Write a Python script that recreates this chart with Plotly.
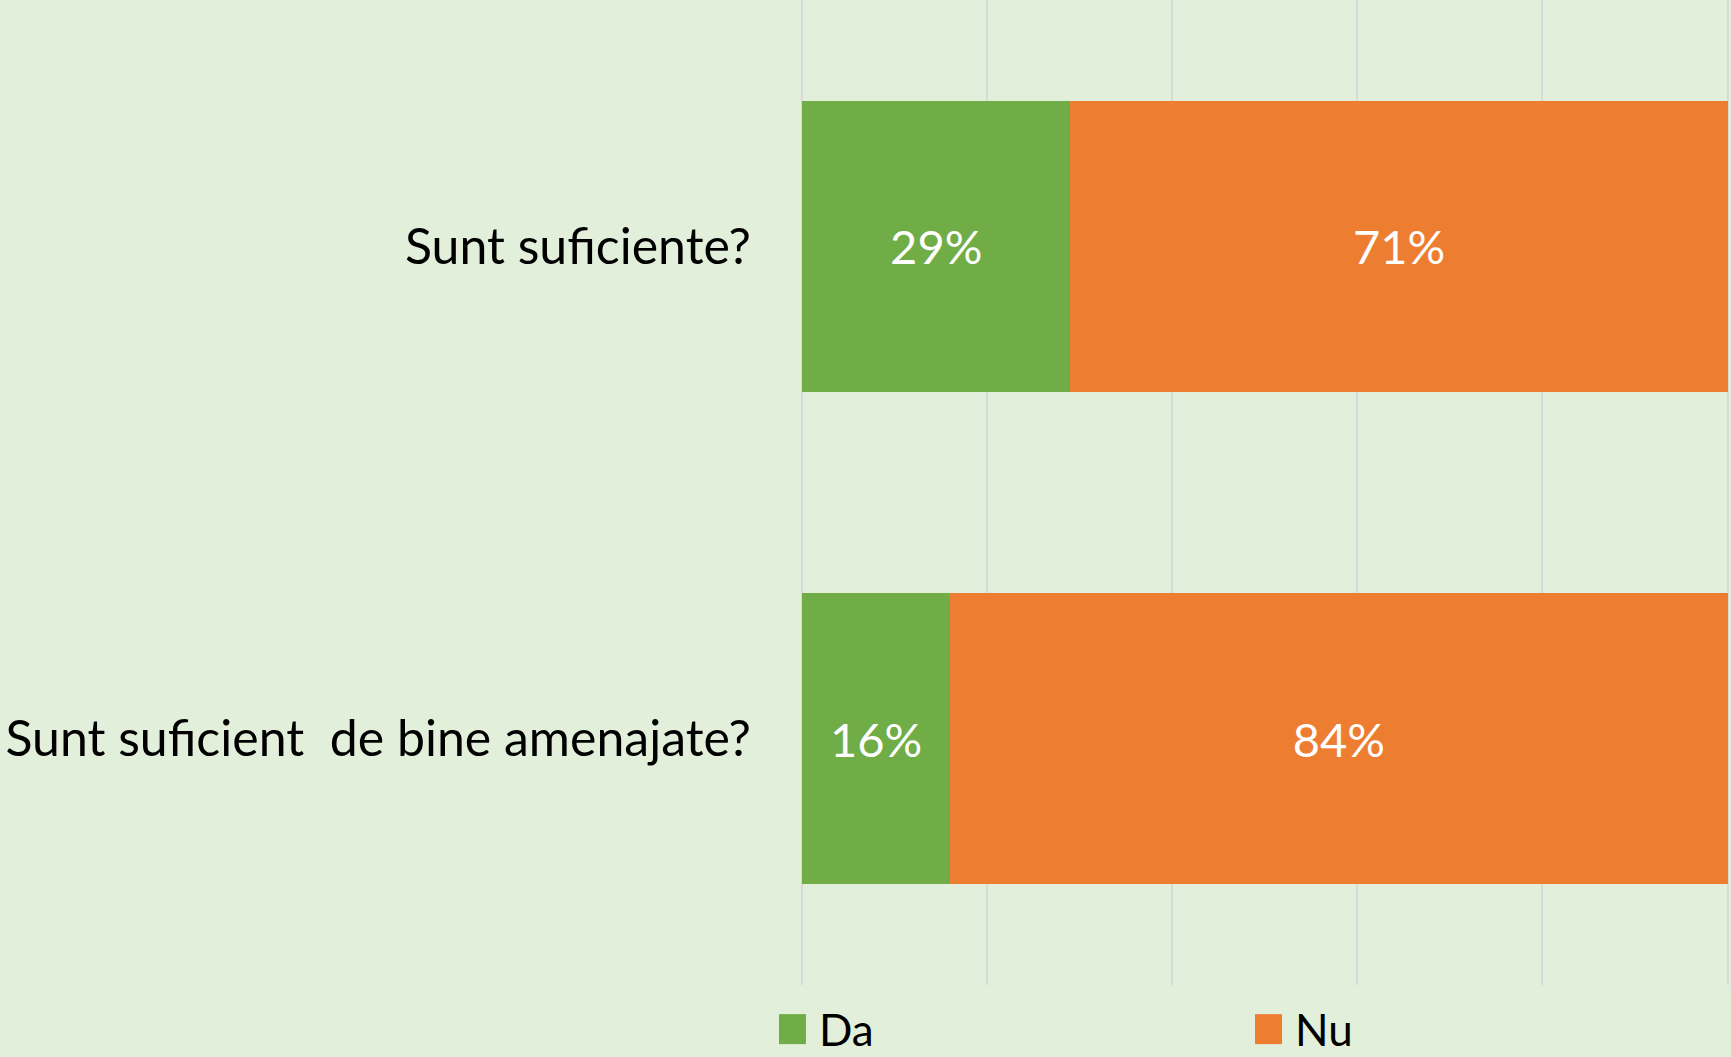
import plotly.graph_objects as go

# survey questions and answer shares
questions = ["Sunt suficiente?", "Sunt suficient  de bine amenajate?"]
da_values = [0.29, 0.16]
nu_values = [0.71, 0.84]
da_labels = ["29%", "16%"]
nu_labels = ["71%", "84%"]

font_name = "Lato"

fig = go.Figure()
fig.add_trace(go.Bar(y=questions, x=da_values, name="Da", orientation="h",
                     marker=dict(color="#70AD47", line=dict(width=0)),
                     text=da_labels, textposition="inside", insidetextanchor="middle",
                     textfont=dict(color="white", size=47, family=font_name),
                     showlegend=True, legend="legend2"))
fig.add_trace(go.Bar(y=questions, x=nu_values, name="Nu", orientation="h",
                     marker=dict(color="#ED7D31", line=dict(width=0)),
                     text=nu_labels, textposition="inside", insidetextanchor="middle",
                     textfont=dict(color="white", size=47, family=font_name),
                     showlegend=True, legend="legend3"))

# one legend per entry so the two keys sit far apart like the original
def legend_at(x):
    return dict(orientation="h", xref="container", x=x, xanchor="left",
                yref="container", y=0.026, yanchor="middle",
                font=dict(size=44, family=font_name), bgcolor="rgba(0,0,0,0)")

fig.update_layout(
    barmode="stack", bargap=0.41,
    width=1731, height=1057,
    margin=dict(l=802, r=2, t=0, b=72),
    paper_bgcolor="#E2EFDA", plot_bgcolor="#E2EFDA",
    font=dict(family=font_name, size=50, color="black"),
    legend2=legend_at(0.4500),
    legend3=legend_at(0.7250),
)
fig.update_xaxes(range=[0, 1.0015], dtick=0.2, showticklabels=False, showgrid=True,
                 gridcolor="#D9D9D9", gridwidth=2, zeroline=True,
                 zerolinecolor="#D9D9D9", zerolinewidth=2)
fig.update_yaxes(autorange="reversed", showgrid=False, ticks="", ticklabelstandoff=50,
                 tickfont=dict(size=50, family=font_name))

# bigger legend squares (shifted left a bit for a wider gap to the text), body margin off
post = """
document.body.style.margin='0px';
document.querySelectorAll('.legendpoints path').forEach(function(p){
    p.setAttribute('d', 'M7,15H-23V-15H7Z');
});
"""
fig.write_html("out.html", config={"displayModeBar": False}, post_script=post)
